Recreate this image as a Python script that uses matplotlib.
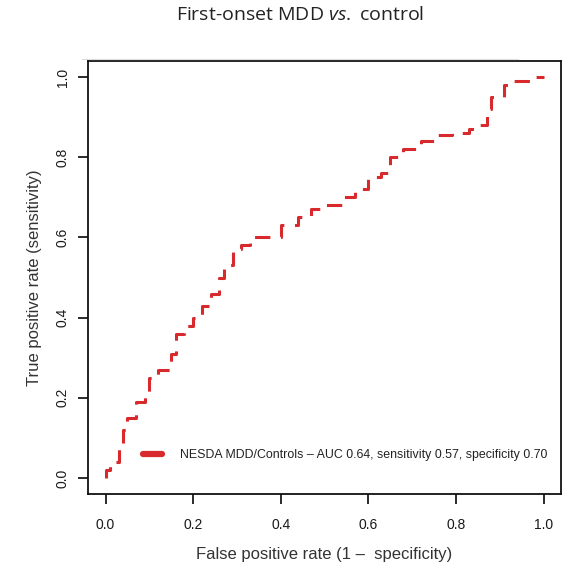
import numpy as np
import matplotlib
matplotlib.use('Agg')
import matplotlib.pyplot as plt
from matplotlib.lines import Line2D

# ROC points (step curve)
fpr = [0.00, 0.00, 0.01, 0.03, 0.04, 0.05, 0.07, 0.09, 0.10, 0.12, 0.15, 0.16, 0.18,
       0.20, 0.22, 0.24, 0.26, 0.27, 0.29, 0.31, 0.33, 0.36, 0.40, 0.44, 0.47, 0.50,
       0.54, 0.57, 0.60, 0.63, 0.65, 0.68, 0.72, 0.75, 0.79, 0.83, 0.85, 0.87, 0.88,
       0.91, 0.93, 0.97, 1.00]
tpr = [0.00, 0.02, 0.04, 0.08, 0.12, 0.15, 0.19, 0.21, 0.25, 0.27, 0.31, 0.36, 0.38,
       0.40, 0.43, 0.46, 0.50, 0.53, 0.57, 0.58, 0.60, 0.60, 0.63, 0.65, 0.67, 0.68,
       0.70, 0.72, 0.75, 0.76, 0.80, 0.82, 0.84, 0.855, 0.86, 0.87, 0.88, 0.92, 0.95,
       0.98, 0.99, 1.00, 1.00]
ticks = [0.0, 0.2, 0.4, 0.6, 0.8, 1.0]
legend_label = 'NESDA MDD/Controls \u2013 AUC 0.64, sensitivity 0.57, specificity 0.70'

plt.rcParams['font.family'] = ['Liberation Sans', 'DejaVu Sans']
plt.rcParams['mathtext.fontset'] = 'custom'
plt.rcParams['mathtext.rm'] = 'Open Sans'
plt.rcParams['mathtext.it'] = 'Open Sans:italic'

red = '#d8292d'
fig = plt.figure(figsize=(5.69, 5.64), dpi=100)
ax = fig.add_axes([0.1547, 0.1241, 0.8313, 0.7677])

ax.step(fpr, tpr, where='post', color=red, lw=2.2, linestyle=(0, (5, 3.5)))

ax.set_xlim(-0.04, 1.04)
ax.set_ylim(-0.04, 1.04)
ax.set_xticks(ticks)
ax.set_yticks(ticks)
ax.set_xticklabels(['%.1f' % t for t in ticks])
ax.set_yticklabels(['%.1f' % t for t in ticks], rotation=90, va='center')
ax.tick_params(direction='out', length=7, width=1.3, labelsize=10, colors='#1a1a1a')
ax.tick_params(axis='x', pad=10)
ax.tick_params(axis='y', pad=6)
for s in ax.spines.values():
    s.set_linewidth(1.3)
    s.set_color('#111111')

ax.set_xlabel('False positive rate (1 \u2013  specificity)', fontsize=12, color='#333333', labelpad=11)
ax.set_ylabel('True positive rate (sensitivity)', fontsize=12, color='#333333', labelpad=10)

h = Line2D([0], [0], color=red, lw=4.5, solid_capstyle='round')
leg = ax.legend([h], [legend_label], loc='center left', bbox_to_anchor=(0.116, 0.09),
                frameon=False, fontsize=8.9, handlelength=1.55, handletextpad=1.45,
                borderpad=0, borderaxespad=0)
for t in leg.get_texts():
    t.set_color('#222222')

fig.text(0.527, 0.973, 'First-onset MDD $vs.$ control', ha='center', va='center',
         fontsize=14, family='Open Sans', color='#222222')
fig.add_artist(Line2D([0.144, 0.91], [0.895, 0.895], color='#dddddd', lw=0.8))

fig.savefig('out.png', dpi=100)
